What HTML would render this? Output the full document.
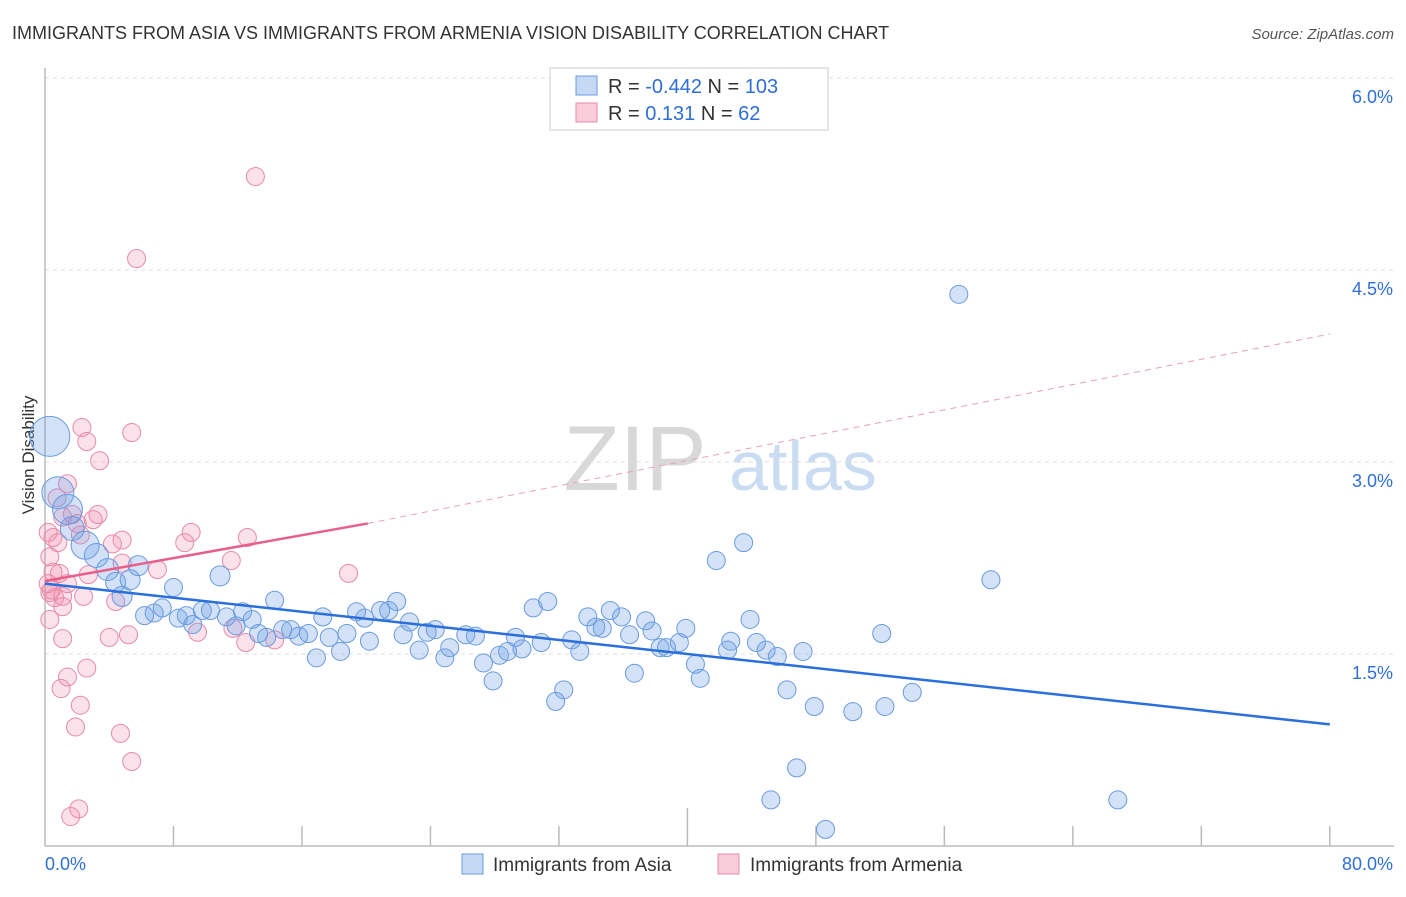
<!DOCTYPE html>
<html><head><meta charset="utf-8"><style>
body{margin:0;background:#fff;font-family:"Liberation Sans",sans-serif;}
svg text{font-family:"Liberation Sans",sans-serif;}
</style></head><body>
<svg id="chart" width="1406" height="892">
<text x="12" y="39" font-size="18" fill="#333">IMMIGRANTS FROM ASIA VS IMMIGRANTS FROM ARMENIA VISION DISABILITY CORRELATION CHART</text>
<text x="1394" y="39" font-size="15" fill="#555" font-style="italic" text-anchor="end">Source: ZipAtlas.com</text>
<text x="0" y="0" font-size="17" fill="#333" transform="translate(34,455) rotate(-90)" text-anchor="middle">Vision Disability</text>
<g>
<text x="635" y="490" font-size="92" fill="#d8d8d8" font-family="Liberation Serif,serif" text-anchor="middle">ZIP</text>
<text x="803" y="490" font-size="70" fill="#c9dcf2" text-anchor="middle">atlas</text>
</g>
<g id="grid"></g><g id="axes"></g>
<g id="pinkPts"></g><g id="bluePts"></g><g id="trends"></g>
<g>
<rect x="550" y="68" width="278" height="62" fill="#fff" stroke="#ccc"/>
<rect x="576" y="76" width="21" height="19" fill="#c5d9f5" stroke="#6a9be0"/>
<rect x="576" y="103" width="21" height="19" fill="#f9ccd9" stroke="#e88aa8"/>
<text x="608" y="93" font-size="20" fill="#333">R = <tspan fill="#2f6fd6">-0.442</tspan>   N = <tspan fill="#2f6fd6">103</tspan></text>
<text x="608" y="120" font-size="20" fill="#333">R =    <tspan fill="#2f6fd6">0.131</tspan>   N =   <tspan fill="#2f6fd6">62</tspan></text>
</g>
<g>
<rect x="462" y="854" width="21" height="20" fill="#c5d9f5" stroke="#6a9be0"/>
<text x="493" y="871" font-size="19" fill="#333">Immigrants from Asia</text>
<rect x="718" y="854" width="21" height="20" fill="#f9ccd9" stroke="#e88aa8"/>
<text x="750" y="871" font-size="19" fill="#333">Immigrants from Armenia</text>
</g>
<text x="45" y="870" font-size="18" fill="#2f6fd6">0.0%</text>
<text x="1393" y="870" font-size="18" fill="#2f6fd6" text-anchor="end">80.0%</text>
</svg>
<script>
const yTicks=[1.5,3.0,4.5,6.0];
const xTicks=[8,16,24,32,40,48,56,64,72,80];
const blueX=[0.3,0.8,1.4,1.7,2.5,3.2,3.9,4.4,5.3,5.8,4.8,6.2,6.8,7.3,8.0,8.3,8.8,9.2,9.8,10.3,10.9,11.3,11.9,12.3,12.9,13.3,13.8,14.3,14.8,15.3,15.8,16.4,16.9,17.3,17.7,18.4,18.8,19.4,19.9,20.2,20.9,21.4,21.9,22.3,22.7,23.3,23.8,24.3,24.9,25.2,26.2,26.8,27.3,27.9,28.3,28.8,29.3,29.7,30.4,30.9,31.3,31.8,32.3,32.8,33.3,33.8,34.3,34.7,35.2,35.9,36.4,36.7,37.4,37.8,38.3,38.7,39.5,39.9,40.5,40.8,41.8,42.5,42.7,43.5,43.9,44.3,44.9,45.6,46.2,46.8,47.2,47.9,45.2,48.6,50.3,52.1,52.3,54.0,56.9,58.9,66.8];
const blueY=[3.2,2.76,2.63,2.48,2.35,2.27,2.16,2.06,2.08,2.19,1.95,1.80,1.82,1.86,2.02,1.78,1.80,1.73,1.84,1.84,2.11,1.79,1.72,1.83,1.77,1.66,1.63,1.92,1.69,1.69,1.64,1.66,1.47,1.79,1.63,1.52,1.66,1.83,1.78,1.60,1.84,1.84,1.91,1.65,1.75,1.53,1.67,1.69,1.47,1.55,1.65,1.64,1.43,1.29,1.49,1.52,1.63,1.54,1.86,1.59,1.91,1.13,1.22,1.61,1.52,1.79,1.71,1.70,1.84,1.79,1.65,1.35,1.76,1.68,1.55,1.55,1.59,1.70,1.42,1.31,2.23,1.53,1.60,2.37,1.77,1.59,1.53,1.48,1.22,0.61,1.52,1.09,0.36,0.13,1.05,1.66,1.09,1.20,4.31,2.08,0.36];
const blueR=[20,16,15,12,14,12,11,10,10,10,10,9,9,9,9,9,9,9,9,9,10,9,9,9,9,9,9,9,9,9,9,9,9,9,9,9,9,9,9,9,9,9,9,9,9,9,9,9,9,9,9,9,9,9,9,9,9,9,9,9,9,9,9,9,9,9,9,9,9,9,9,9,9,9,9,9,9,9,9,9,9,9,9,9,9,9,9,9,9,9,9,9,9,9,9,9,9,9,9,9,9];
const pinkX=[13.1,5.7,2.3,2.6,5.4,3.4,1.4,0.75,3.3,3.0,1.7,1.1,0.5,0.8,2.0,2.2,4.2,4.8,8.7,9.1,12.6,11.6,18.9,7.0,4.8,2.7,0.3,0.5,0.9,1.4,0.3,0.6,1.1,2.4,4.4,1.1,0.3,1.1,4.0,5.2,9.5,11.7,12.5,14.3,2.6,1.4,1.0,2.2,1.9,4.7,5.4,2.1,1.6,0.2,0.4,0.2];
const pinkY=[5.23,4.59,3.27,3.16,3.23,3.01,2.83,2.72,2.59,2.55,2.59,2.57,2.41,2.37,2.52,2.43,2.36,2.39,2.37,2.45,2.41,2.23,2.13,2.16,2.21,2.12,2.26,2.14,2.13,2.05,1.98,1.94,1.95,1.95,1.91,1.87,1.77,1.62,1.63,1.65,1.67,1.70,1.59,1.61,1.39,1.32,1.23,1.10,0.93,0.88,0.66,0.29,0.23,2.05,2.0,2.45];
const blueTrend=[[0,2.05],[80,0.95]];
const pinkTrendSolid=[[0,2.07],[20.1,2.52]];
const pinkTrendDash=[[20.1,2.52],[80,4.0]];
const X=v=>45+v*16.06, Y=v=>846-v*128;
const NS="http://www.w3.org/2000/svg";
function mk(parent,tag,attrs){const e=document.createElementNS(NS,tag);for(const k in attrs)e.setAttribute(k,attrs[k]);document.getElementById(parent).appendChild(e);return e;}
yTicks.forEach(t=>{
 const l=mk('grid','line',{x1:45,x2:1394,y1:Y(t),y2:Y(t),stroke:'#ddd','stroke-dasharray':'4,4'});
 
 
 const tx=mk('grid','text',{x:1393,y:Y(t)+25,'font-size':18,fill:'#2f6fd6','text-anchor':'end'});
 tx.textContent=t.toFixed(1)+'%';
 
 
});
const ax=mk('axes','line',{x1:45,x2:45,y1:68,y2:846,stroke:'#bbb','stroke-width':1.5});


const bx=mk('axes','line',{x1:45,x2:1394,y1:846,y2:846,stroke:'#bbb','stroke-width':1.5});


xTicks.forEach(t=>{
 const tk=mk('axes','line',{x1:X(t),x2:X(t),y1:t===40?808:826,y2:846,stroke:'#bbb','stroke-width':1.5});
 
 
});
pinkX.forEach((v,i)=>{
 const c=mk('pinkPts','circle',{cx:X(v),cy:Y(pinkY[i]),r:9,fill:'rgba(240,140,170,0.25)',stroke:'#e88aa8','stroke-width':1});
 
 
});
blueX.forEach((v,i)=>{
 const c=mk('bluePts','circle',{cx:X(v),cy:Y(blueY[i]),r:blueR[i]||9,fill:'rgba(110,160,230,0.3)',stroke:'#6a9be0','stroke-width':1});
 
 
});
const bt=mk('trends','line',{x1:X(blueTrend[0][0]),y1:Y(blueTrend[0][1]),x2:X(blueTrend[1][0]),y2:Y(blueTrend[1][1]),stroke:'#2a6fdb','stroke-width':2.5});


const pt=mk('trends','line',{x1:X(pinkTrendSolid[0][0]),y1:Y(pinkTrendSolid[0][1]),x2:X(pinkTrendSolid[1][0]),y2:Y(pinkTrendSolid[1][1]),stroke:'#e8608a','stroke-width':2.5});


const pd=mk('trends','line',{x1:X(pinkTrendDash[0][0]),y1:Y(pinkTrendDash[0][1]),x2:X(pinkTrendDash[1][0]),y2:Y(pinkTrendDash[1][1]),stroke:'#e8a0b8','stroke-width':1,'stroke-dasharray':'6,5'});


</script>
</body></html>
